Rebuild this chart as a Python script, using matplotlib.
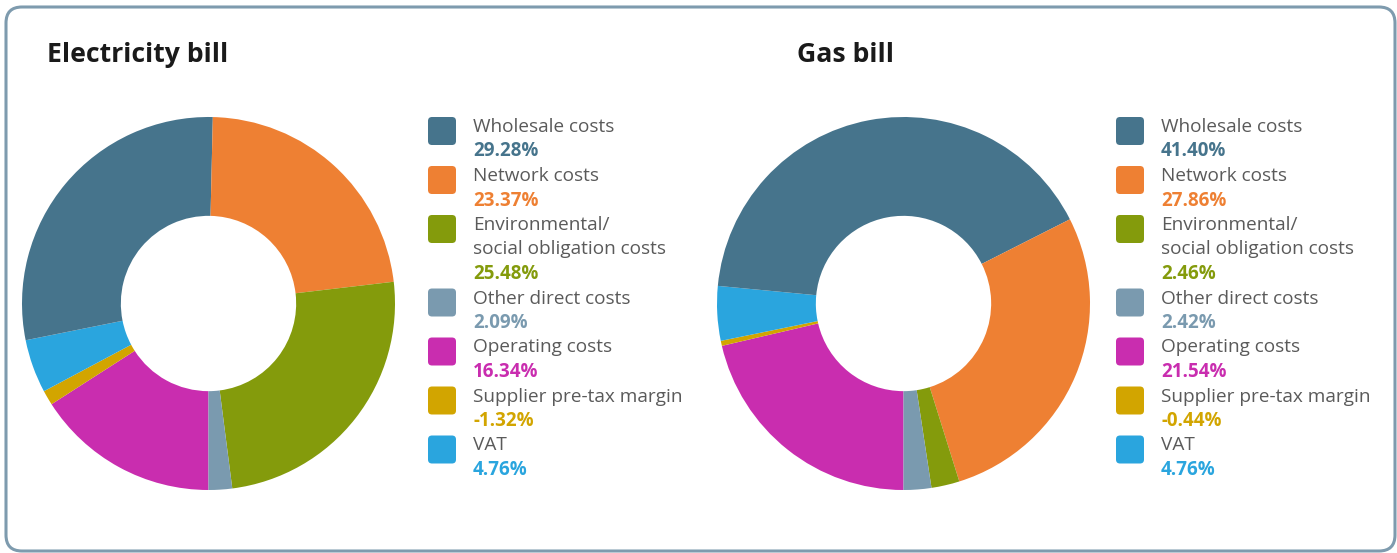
import matplotlib.pyplot as plt
from matplotlib.patches import FancyBboxPatch

plt.rcParams['font.family'] = ['Open Sans', 'DejaVu Sans']

# Data
categories = ['Wholesale costs', 'Network costs', 'Environmental/\nsocial obligation costs',
              'Other direct costs', 'Operating costs', 'Supplier pre-tax margin', 'VAT']
electricity = [29.28, 23.37, 25.48, 2.09, 16.34, -1.32, 4.76]
gas = [41.40, 27.86, 2.46, 2.42, 21.54, -0.44, 4.76]
colors = ['#46748c', '#ee8033', '#849b0c', '#7a9aaf', '#c92daf', '#d2a500', '#2aa5de']
titles = ['Electricity bill', 'Gas bill']
# drawing order of slices, clockwise from the bottom
pie_order = [4, 5, 6, 0, 1, 2, 3]

W, H = 1397, 553
fig = plt.figure(figsize=(W / 100, H / 100), dpi=100)

# background axes in pixel coordinates
bg = fig.add_axes([0, 0, 1, 1])
bg.set_xlim(0, W)
bg.set_ylim(H, 0)
bg.axis('off')
bg.add_patch(FancyBboxPatch((6, 7), W - 8, H - 9, boxstyle='round,pad=0,rounding_size=16',
                            fc='white', ec='#7e9bae', lw=2.2, clip_on=False))

panels = [(22, 47, 428), (717, 797, 1116)]  # pie left, title x, legend x
for (pie_x, title_x, leg_x), title, values in zip(panels, titles, [electricity, gas]):
    bg.text(title_x, 62, title, fontsize=19.2, fontweight='bold', color='#1a1a1a', va='baseline')

    ax = fig.add_axes([pie_x / W, (H - 490) / H, 373 / W, 373 / H])
    sizes = [abs(values[i]) for i in pie_order]
    cols = [colors[i] for i in pie_order]
    ax.pie(sizes, colors=cols, startangle=270, counterclock=False, radius=1,
           wedgeprops=dict(width=0.53, linewidth=0))
    ax.set_xlim(-1, 1)
    ax.set_ylim(-1, 1)
    ax.set_aspect('equal')
    ax.axis('off')

    y = 132
    step = 24.5
    for label, val, c in zip(categories, values, colors):
        bg.add_patch(FancyBboxPatch((leg_x, y - 15), 28, 28, boxstyle='round,pad=0,rounding_size=4',
                                    fc=c, ec='none'))
        lines = label.split('\n')
        for k, line in enumerate(lines):
            bg.text(leg_x + 45, y + k * step, line, fontsize=13.7, color='#5a5a5a', va='baseline')
        bg.text(leg_x + 45, y + len(lines) * step, f'{val:.2f}%', fontsize=13.5,
                fontweight='bold', color=c, va='baseline')
        y += (len(lines) + 1) * step

fig.savefig('out.png', dpi=100)
